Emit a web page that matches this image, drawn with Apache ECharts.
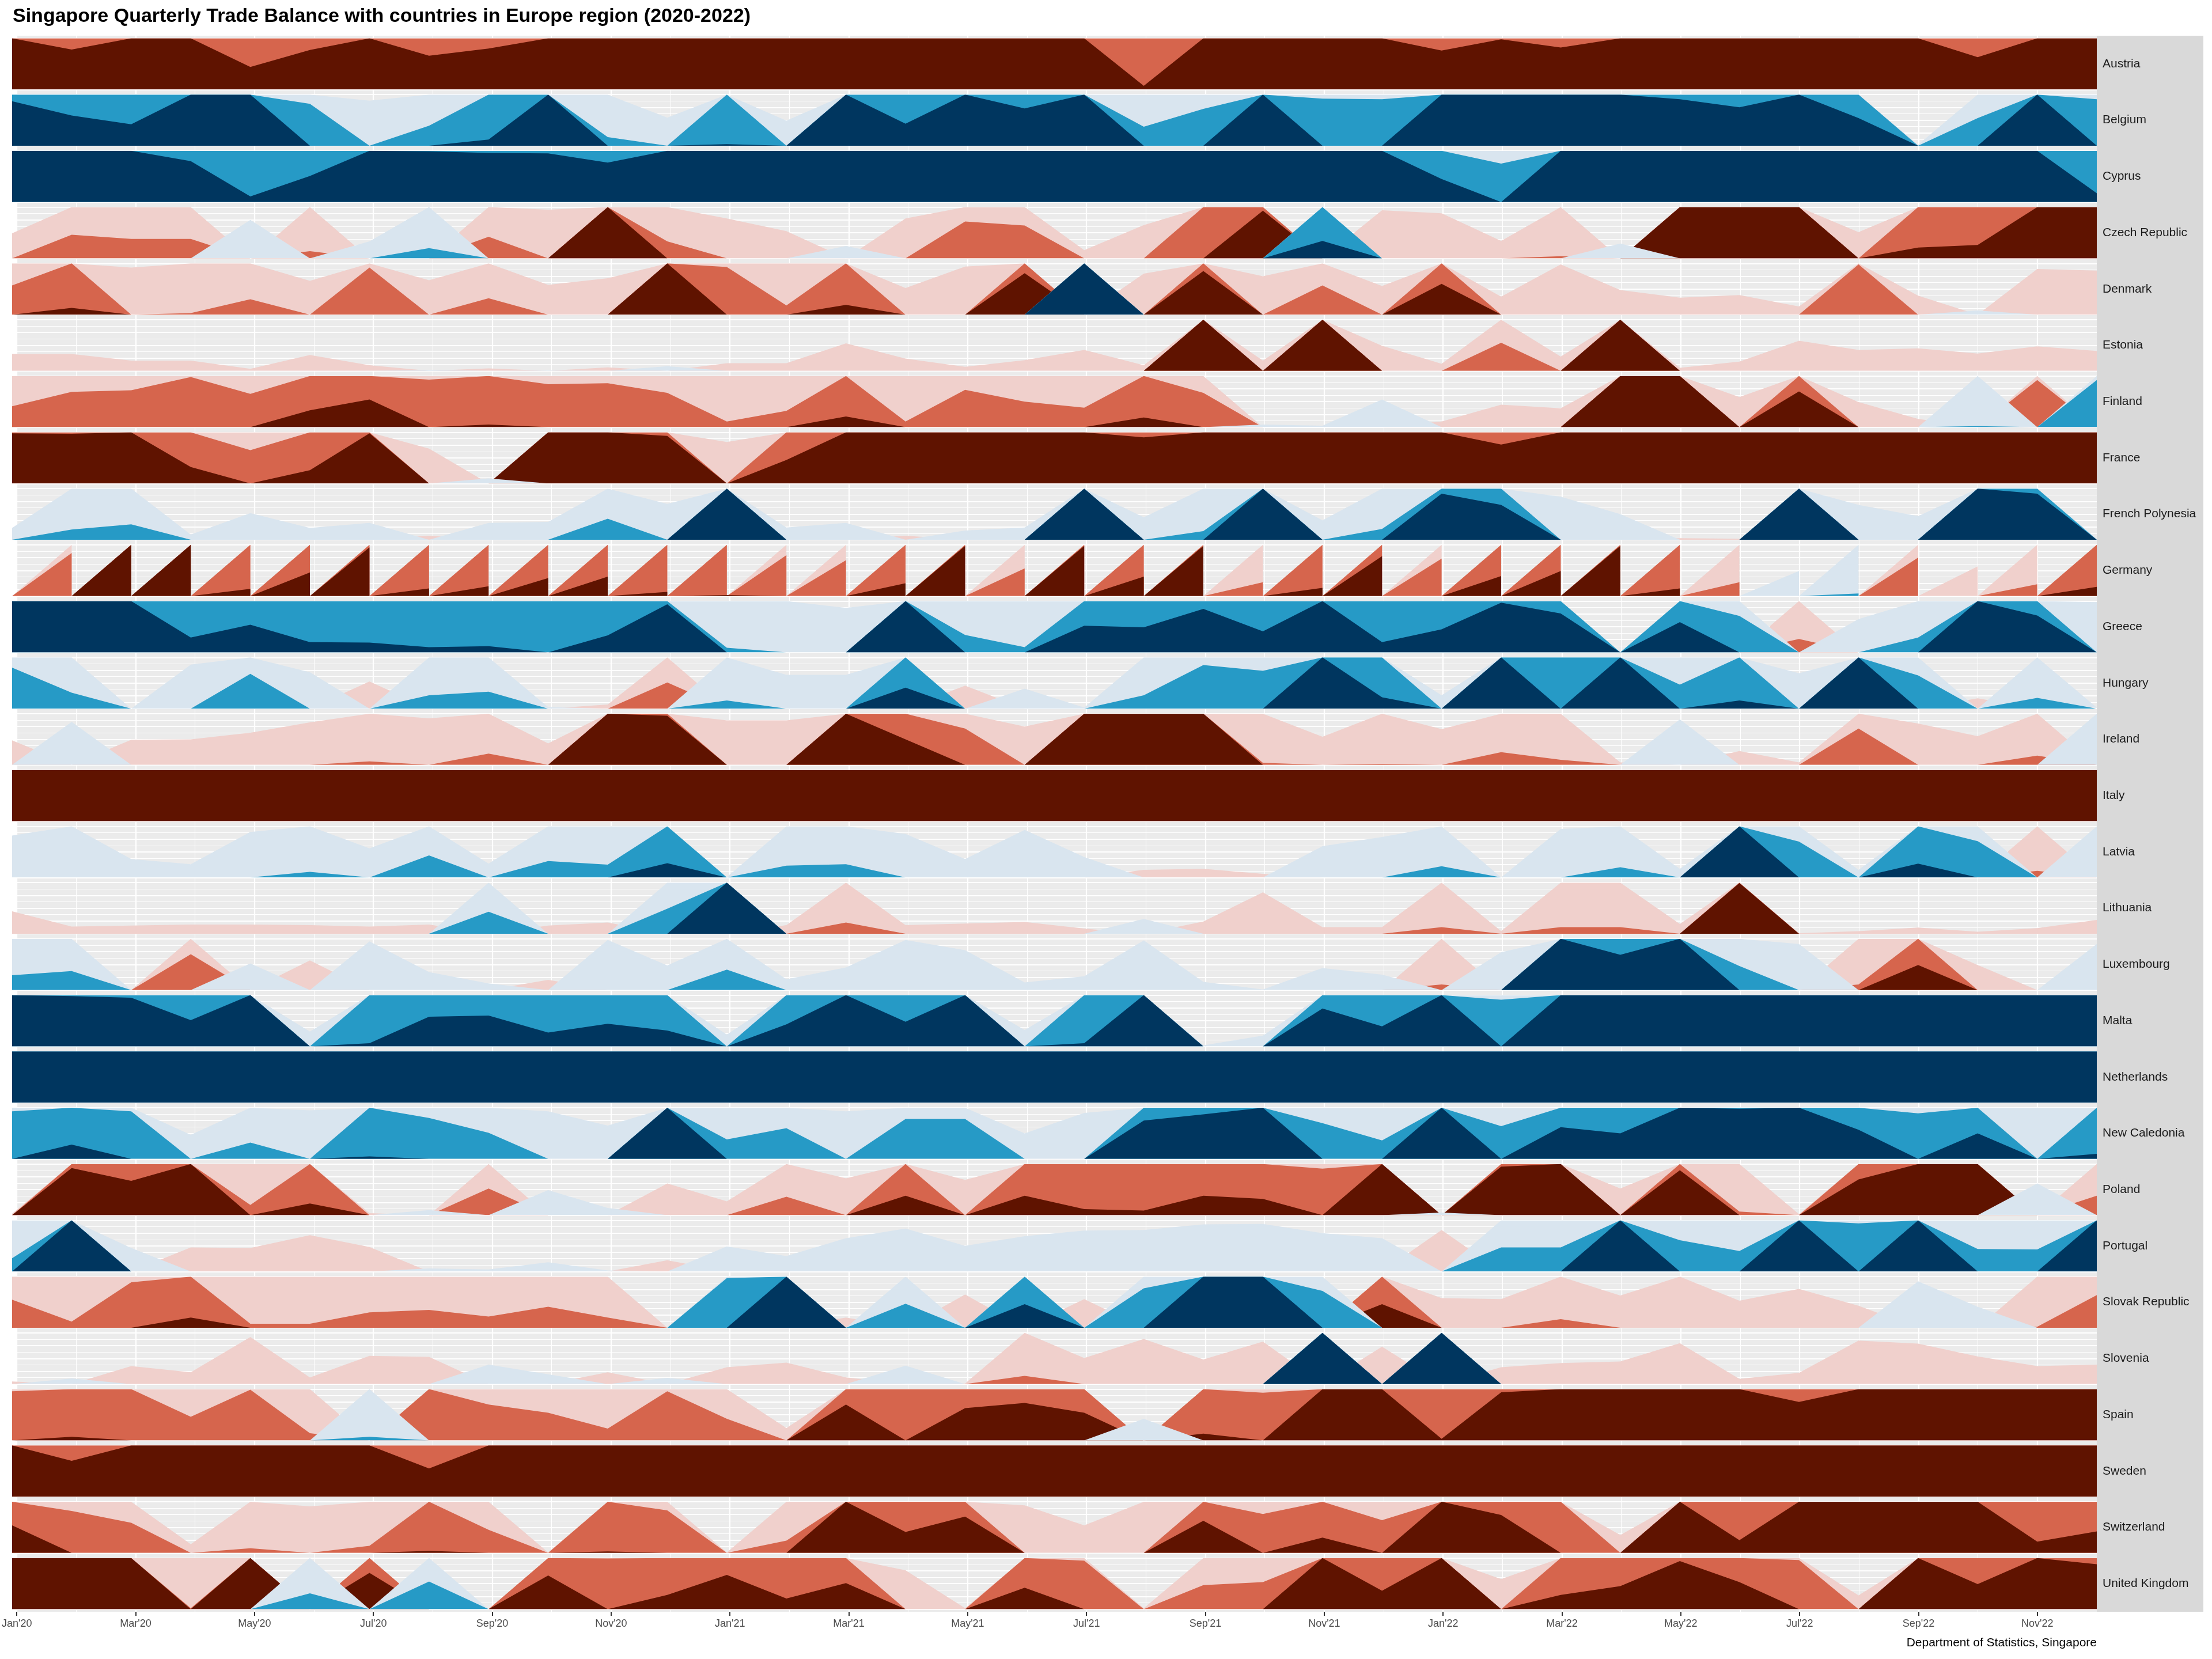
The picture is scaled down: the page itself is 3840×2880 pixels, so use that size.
<!DOCTYPE html>
<html><head><meta charset="utf-8">
<script src="https://cdn.jsdelivr.net/npm/echarts@6/dist/echarts.min.js"></script>
<style>html,body{margin:0;padding:0;background:#fff}#c{width:3840px;height:2880px}</style>
</head><body><div id="c"></div>
<script>
// ---- categories / tick labels ----
const monthLabels = ["Jan'20","Feb'20","Mar'20","Apr'20","May'20","Jun'20","Jul'20","Aug'20","Sep'20","Oct'20","Nov'20","Dec'20",
  "Jan'21","Feb'21","Mar'21","Apr'21","May'21","Jun'21","Jul'21","Aug'21","Sep'21","Oct'21","Nov'21","Dec'21",
  "Jan'22","Feb'22","Mar'22","Apr'22","May'22","Jun'22","Jul'22","Aug'22","Sep'22","Oct'22","Nov'22","Dec'22"];
const countries = ["Austria","Belgium","Cyprus","Czech Republic","Denmark","Estonia","Finland","France","French Polynesia","Germany",
  "Greece","Hungary","Ireland","Italy","Latvia","Lithuania","Luxembourg","Malta","Netherlands","New Caledonia","Poland","Portugal",
  "Slovak Republic","Slovenia","Spain","Sweden","Switzerland","United Kingdom"];

// ---- values: monthly trade balance in horizon-band units (negative = deficit, |v|>=3 saturates) ----
const austria = [-3,-2.78,-3,-3,-2.44,-2.77,-3,-2.66,-2.8,-3,-3,-3,-3,-3,-3,-3,-3,-3,-3,-2.07,-3,-3,-3,-3,-2.76,-2.98,-2.82,-3,-3,-3,-3,-3,-3,-2.63,-3,-3];
const belgium = [2.87,2.59,2.42,3,3,1.82,0.88,1.39,2.12,3,1.17,0.55,2.03,0.49,3,2.43,3,2.73,3,1.37,1.72,3,1.92,1.91,3,3,3,3,2.91,2.75,3,2.54,0.02,1.54,3,1.91];
const cyprus = [3,3,3,2.8,2.11,2.51,3,2.99,2.96,2.95,2.77,3,3,3,3,3,3,3,3,3,3,3,3,3,2.45,1.75,3,3,3,3,3,3,3,3,3,2.17];
const czech = [-0.49,-1.46,-1.38,-1.38,0.75,-1.14,0.33,1.2,-1.42,-0.95,-3,-1.33,-0.78,-0.53,0.24,-0.78,-1.72,-1.64,-0.16,-0.65,-2.0,-2.93,2.34,-0.94,-0.88,-0.34,-1.04,0.29,-3,-3,-3,-0.51,-2.21,-2.26,-3,-3];
const denmark = [-1.57,-2.13,-0.92,-1.03,-1.3,-0.66,-1.92,-0.67,-1.32,-0.58,-0.71,-3,-1.93,-1.18,-2.19,-0.52,-0.94,-2.81,3,-0.8,-2.85,-0.75,-1.57,-0.56,-2.6,-0.35,-0.98,-0.48,-0.33,-0.38,-0.16,-1.98,-0.37,0.08,-0.89,-0.86];
const estonia = [-0.33,-0.33,-0.2,-0.2,-0.04,-0.31,-0.11,0.02,-0.05,0.01,-0.07,0.09,-0.15,-0.15,-0.54,-0.24,-0.08,-0.21,-0.41,-0.11,-3,-0.2,-3,-0.49,-0.14,-1.55,-0.28,-3,-0.06,-0.18,-0.59,-0.41,-0.44,-0.34,-0.48,-0.39];
const finland = [-1.41,-1.69,-1.72,-1.98,-1.65,-2.33,-2.54,-1.93,-2.05,-1.84,-1.86,-1.67,-1.11,-1.32,-2.21,-1.11,-1.73,-1.5,-1.38,-2.19,-1.67,0.05,0.03,0.54,-0.11,-0.44,-0.37,-3,-3,-0.59,-2.7,-0.49,-0.16,1.02,-1.92,1.92];
const france = [-2.98,-2.97,-3,-2.32,-1.65,-2.26,-2.98,-0.68,0.1,-3,-3,-2.93,-0.81,-2.46,-3,-3,-3,-3,-3,-2.9,-3,-3,-3,-3,-3,-2.76,-3,-3,-3,-3,-3,-3,-3,-3,-3,-3];
const frenchPolynesia = [0.23,1.2,1.3,0.1,0.52,0.23,0.33,-0.08,0.33,0.35,1.41,0.7,3,0.24,0.33,-0.08,0.18,0.24,3,0.44,1.17,3,0.38,1.21,2.9,2.68,0.84,0.5,-0.03,-0.02,3,0.68,0.46,3,2.9,0.02];
const germany = [0,-1.84,-3,-3,-2.14,-2.46,-2.95,-2.15,-2.19,-2.35,-2.38,-2.08,-2.02,-1.8,-1.7,-2.25,-2.98,-1.54,-2.98,-2.38,-2.98,-1.27,-2.16,-2.78,-1.73,-2.39,-2.49,-2.98,-2.15,-1.27,0.49,1.05,-1.75,-0.58,-1.23,-2.18];
const germanySecondRecord = [0,0,0,0,0,0,0,0,0,0,0,0,0,0,0,0,0,0,0,0,0,0,0,0,0,0,0,0,0,0,0,0,0,0,0,0];
const greece = [3,3,3,2.29,2.54,2.2,2.19,2.1,2.12,2.0,2.33,2.94,1.09,1.0,0.87,3,1.34,1.1,2.52,2.49,2.85,2.41,3,2.2,2.45,2.97,2.76,0.0,2.59,1.71,-1.26,0.65,1.29,3,2.72,0.98];
const hungary = [1.8,1.31,0.0,0.86,1.68,0.71,-0.53,1.26,1.33,0.03,-0.08,-1.51,1.16,0.66,0.66,2.41,-0.45,0.39,0.02,1.26,1.85,1.74,3,2.22,0.26,3,2.0,3,1.47,2.16,0.69,3,1.65,-0.2,1.21,0.02];
const ireland = [-0.48,0.84,-0.49,-0.5,-0.63,-0.83,-1.07,-0.91,-1.22,-0.42,-3,-2.96,-0.87,-0.87,-3,-2.5,-1.71,-0.75,-3,-3,-3,-1.04,-0.55,-1.02,-0.7,-1.25,-1.1,-0.05,0.89,-0.27,-0.05,-1.71,-0.81,-0.56,-1.18,1.0];
const italy = [-3,-3,-3,-3,-3,-3,-3,-3,-3,-3,-3,-3,-3,-3,-3,-3,-3,-3,-3,-3,-3,-3,-3,-3,-3,-3,-3,-3,-3,-3,-3,-3,-3,-3,-3,-3];
const latvia = [0.82,1.0,0.36,0.26,0.89,1.11,0.57,1.43,0.27,1.32,1.25,2.28,0.01,1.23,1.26,0.85,0.36,0.93,0.4,-0.15,-0.17,-0.07,0.61,0.79,1.22,0.0,0.95,1.2,0.17,3,1.7,0.15,2.27,1.71,-1.13,1.0];
const lithuania = [-0.44,-0.14,-0.16,-0.18,-0.18,-0.17,-0.14,-0.18,1.43,-0.16,-0.22,1.49,3,-0.17,-1.22,-0.17,-0.2,-0.23,-0.1,0.29,-0.24,-0.81,-0.13,-0.13,-1.13,-0.05,-1.13,-1.13,-0.19,-2.99,-0.01,-0.05,-0.12,-0.04,-0.11,-0.27];
const luxembourg = [1.29,1.37,0.0,-1.7,0.52,-0.58,0.95,0.35,0.13,-0.2,0.98,0.48,1.4,0.21,0.44,0.98,0.78,0.15,0.27,0.97,0.16,0.01,0.43,0.3,-1.11,0.74,3,2.69,3,1.47,0.9,-1.11,-2.49,-0.49,0.0,0.9];
const malta = [3,2.98,2.95,2.51,3,0.29,2.06,2.58,2.6,2.27,2.44,2.31,0.23,2.43,3,2.48,3,0.32,2.06,3,0.02,0.21,2.74,2.39,3,1.91,3,3,3,3,3,3,3,3,3,3];
const netherlands = [3,3,3,3,3,3,3,3,3,3,3,3,3,3,3,3,3,3,3,3,3,3,3,3,3,3,3,3,3,3,3,3,3,3,3,3];
const newCaledonia = [1.93,2.28,1.93,0.47,1.32,0.95,2.05,1.8,1.51,0.93,0.65,3,1.38,1.6,0.93,1.78,1.78,0.5,0.9,2.75,2.87,3,1.7,1.36,3,1.64,2.62,2.5,3,2.98,3,2.57,1.89,2.5,1.0,2.1];
const poland = [-0.03,-2.92,-2.67,-3,-1.2,-2.23,-0.04,0.1,-1.52,0.49,0.14,-0.62,-0.27,-1.36,-0.72,-2.38,-0.69,-2.38,-2.12,-2.09,-2.38,-2.32,-1.91,-3,0.05,-2.95,-3,-0.52,-2.88,-1.07,-0.02,-2.7,-3,-3,0.62,-1.38];
const portugal = [1.26,3,0.46,-0.47,-0.46,-0.71,-0.48,0.06,0.04,0.18,0.02,-0.22,0.49,0.3,0.65,0.84,0.5,0.69,0.8,0.81,0.92,0.93,0.75,0.65,-0.81,1.47,1.47,3,1.61,1.4,3,1.94,3,1.44,1.43,3];
const slovakRepublic = [-1.55,-1.12,-1.89,-2.2,-1.08,-1.08,-1.3,-1.35,-1.22,-1.41,-1.2,0.0,1.97,3,-0.2,1.47,-0.65,2.46,-0.56,1.77,3,3,1.72,-2.46,-0.58,-0.56,-1.17,-0.63,-1.0,-0.53,-0.76,-0.43,0.91,0.41,-1.02,-1.64];
const slovenia = [-0.05,0.11,-0.35,-0.23,-0.92,-0.13,-0.55,-0.53,0.38,0.19,-0.23,0.12,-0.33,-0.42,-0.13,0.36,-0.01,-1.16,-0.51,-0.88,-0.48,-0.83,3,-0.73,3,-0.33,-0.41,-0.44,-0.8,-0.1,-0.22,-0.85,-0.79,-0.54,-0.35,-0.38];
const spain = [-1.96,-2.07,-2.0,-1.46,-1.99,-1.14,1.07,-2.0,-1.7,-1.54,-1.23,-1.96,-1.42,-0.24,-2.7,-2.0,-2.63,-2.73,-2.54,0.42,-2.13,-1.93,-3,-3,-2.03,-2.94,-3,-3,-3,-3,-2.75,-3,-3,-3,-3,-3];
const sweden = [-3,-2.7,-3,-3,-3,-3,-3,-2.55,-3,-3,-3,-3,-3,-3,-3,-3,-3,-3,-3,-3,-3,-3,-3,-3,-3,-3,-3,-3,-3,-3,-3,-3,-3,-3,-3,-3];
const switzerland = [-2.54,-1.82,-1.59,-0.17,-1.09,-0.91,-1.14,-2.04,-1.45,-0.01,-2.03,-1.83,-0.01,-1.24,-3,-2.41,-2.71,-0.93,-0.54,-1.0,-2.63,-1.76,-2.3,-1.64,-3,-2.74,-2.0,-0.35,-3,-2.25,-3,-3,-3,-3,-2.22,-2.42];
const unitedKingdom = [-3,-3,-3,-1.02,-3,1.31,-2.71,1.54,0.0,-2.66,-1.99,-2.28,-2.67,-2.21,-2.51,-0.76,-0.02,-2.42,-1.95,-0.02,-1.47,-1.53,-3,-2.36,-3,-0.59,-2.28,-2.45,-2.94,-2.53,-1.96,-0.27,-3,-2.49,-3,-2.88];

const countryValues = [austria,belgium,cyprus,czech,denmark,estonia,finland,france,frenchPolynesia,germany,
  greece,hungary,ireland,italy,latvia,lithuania,luxembourg,malta,netherlands,newCaledonia,poland,portugal,
  slovakRepublic,slovenia,spain,sweden,switzerland,unitedKingdom];

// ---- layout & style ----
const FONT = '"Liberation Sans", Arial, sans-serif';
const PLOT_L = 21, PLOT_R = 3640, PLOT_T = 62, PLOT_B = 2798;
const N = countries.length;
const PITCH = (PLOT_B - PLOT_T) / N;
const DATA_H = PITCH / 1.1;
const EXPAND = DATA_H * 0.05;
const negColors = ['#f0d0cc', '#d6654d', '#5f1300'];
const posColors = ['#d9e5ef', '#269ac6', '#00365f'];
const WHITE_MAJOR = 2.2, WHITE_MINOR = 1.1;

function bandValue(v, k, sign) {
  const x = sign * v - k;
  return Math.max(0, Math.min(1, x));
}
function pointsFor(ci) {
  const vals = countryValues[ci];
  if (countries[ci] === 'Germany') {
    const pts = [];
    vals.forEach((v, i) => { pts.push([i, v]); pts.push([i, germanySecondRecord[i]]); });
    return pts;
  }
  return vals.map((v, i) => [i, v]);
}

const tickVals = monthLabels.map((_, i) => i).filter(i => i % 2 === 0);

const grids = [{ left: PLOT_L, top: PLOT_T, width: PLOT_R - PLOT_L, height: PLOT_B - PLOT_T,
  show: true, backgroundColor: '#ebebeb', borderWidth: 0 }];
const xAxes = [{
  gridIndex: 0, type: 'value', min: 0, max: monthLabels.length - 1, interval: 2,
  axisLine: { show: false },
  axisTick: { show: true, length: 7, lineStyle: { color: '#333333', width: 2 }, customValues: tickVals },
  axisLabel: { show: true, customValues: tickVals, formatter: v => monthLabels[v] || '', color: '#4d4d4d',
    fontSize: 18, fontFamily: FONT, margin: 12 },
  splitLine: { show: true, lineStyle: { color: '#ffffff', width: WHITE_MAJOR } },
  minorTick: { show: false, splitNumber: 2 },
  minorSplitLine: { show: true, lineStyle: { color: '#ffffff', width: WHITE_MINOR } }
}];
const yAxes = [{ gridIndex: 0, type: 'value', min: 0, max: 1, show: false }];
const series = [];
const graphics = [{ type: 'rect', shape: { x: PLOT_R, y: PLOT_T, width: 185, height: PLOT_B - PLOT_T },
  style: { fill: '#d9d9d9' }, silent: true }];

countries.forEach((name, ci) => {
  const panelTop = PLOT_T + ci * PITCH;
  grids.push({ left: PLOT_L, top: panelTop + EXPAND, width: PLOT_R - PLOT_L, height: DATA_H, show: false });
  xAxes.push({ gridIndex: ci + 1, type: 'value', min: 0, max: monthLabels.length - 1, show: false });
  yAxes.push({ gridIndex: ci + 1, type: 'value', min: 0, max: 1, interval: 0.25,
    axisLine: { show: false }, axisTick: { show: false }, axisLabel: { show: false },
    splitLine: { show: true, lineStyle: { color: '#ffffff', width: WHITE_MAJOR } },
    minorTick: { show: false, splitNumber: 2 },
    minorSplitLine: { show: true, lineStyle: { color: '#ffffff', width: WHITE_MINOR } } });
  const pts = pointsFor(ci);
  [-1, 1].forEach(sign => {
    [0, 1, 2].forEach(k => {
      series.push({
        type: 'line', xAxisIndex: ci + 1, yAxisIndex: ci + 1,
        data: pts.map(p => [p[0], bandValue(p[1], k, sign)]),
        symbol: 'none', showSymbol: false, silent: true, animation: false,
        lineStyle: { width: 0, opacity: 0 },
        areaStyle: { color: (sign < 0 ? negColors : posColors)[k], opacity: 1 }
      });
    });
  });
  graphics.push({ type: 'text', x: PLOT_R + 10, y: panelTop + PITCH / 2, silent: true,
    style: { text: name, fill: '#1a1a1a', fontSize: 21, fontFamily: FONT, verticalAlign: 'middle', align: 'left' } });
});

const chart = echarts.init(document.getElementById('c'), null, { renderer: 'canvas', width: 3840, height: 2880 });
chart.setOption({
  backgroundColor: '#ffffff',
  animation: false,
  title: [
    { text: 'Singapore Quarterly Trade Balance with countries in Europe region (2020-2022)', left: 22, top: 12, padding: 0,
      textStyle: { fontSize: 34, fontWeight: 'bold', color: '#000000', fontFamily: FONT } },
    { text: 'Department of Statistics, Singapore', right: 3840 - PLOT_R, top: 2842, padding: 0,
      textStyle: { fontSize: 21, fontWeight: 'normal', color: '#000000', fontFamily: FONT } }
  ],
  grid: grids, xAxis: xAxes, yAxis: yAxes, series: series, graphic: graphics
});
</script></body></html>
